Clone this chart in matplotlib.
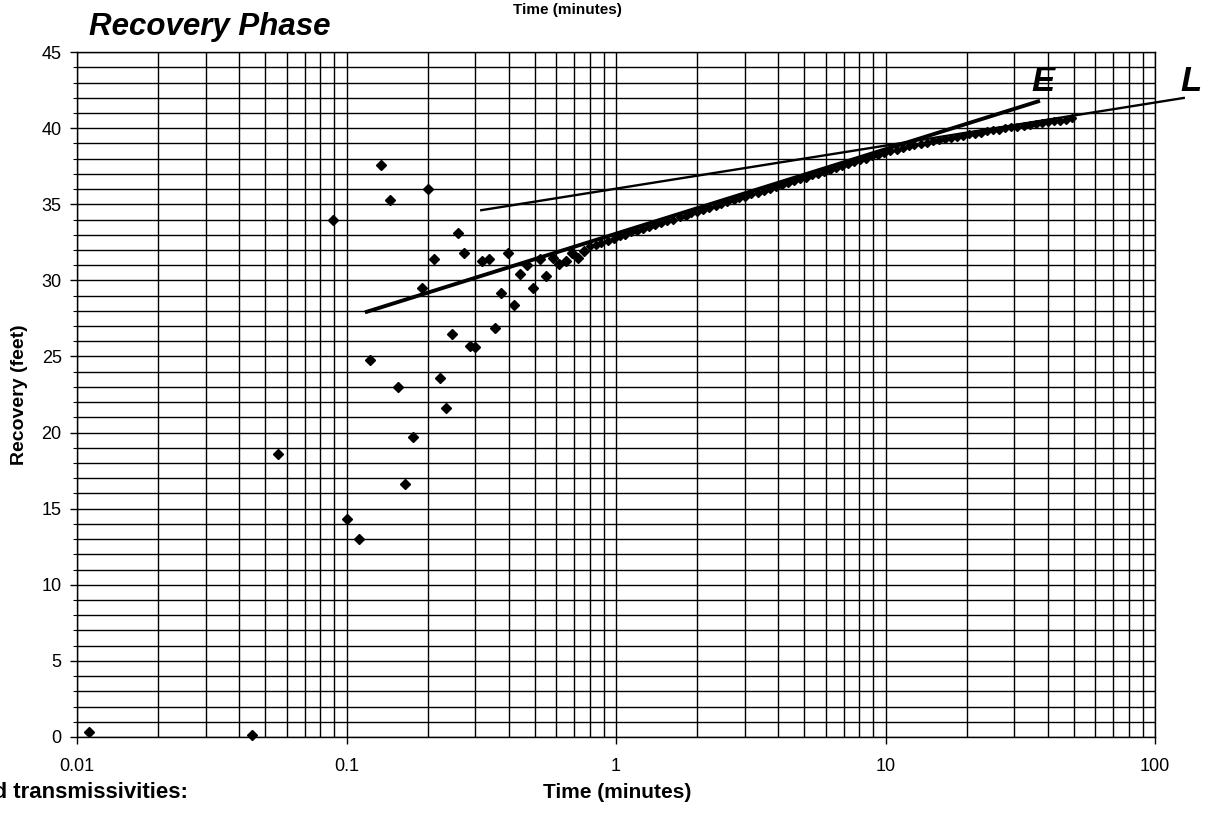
import matplotlib
matplotlib.use("Agg")
import matplotlib.pyplot as plt
from matplotlib.ticker import LogLocator, MultipleLocator, NullFormatter, FixedLocator, FixedFormatter

plt.rcParams['font.family'] = ['Liberation Sans', 'DejaVu Sans']

# early-time scatter (minutes, feet)
early_time = [0.0111, 0.0446, 0.0557, 0.089, 0.100, 0.111, 0.122, 0.134, 0.145, 0.155,
              0.165, 0.177, 0.190, 0.201, 0.212, 0.222, 0.233, 0.246, 0.260, 0.273,
              0.287, 0.300, 0.319, 0.338, 0.356, 0.374, 0.398, 0.419, 0.440, 0.466,
              0.493, 0.522, 0.550, 0.582, 0.613, 0.650, 0.685, 0.721, 0.761]
early_recovery = [0.3, 0.1, 18.6, 34.0, 14.3, 13.0, 24.8, 37.6, 35.3, 23.0,
                  16.6, 19.7, 29.5, 36.0, 31.4, 23.6, 21.6, 26.5, 33.1, 31.8,
                  25.7, 25.6, 31.3, 31.4, 26.9, 29.2, 31.8, 28.4, 30.4, 31.0,
                  29.5, 31.4, 30.3, 31.5, 31.1, 31.3, 31.8, 31.5, 31.9]

# later, smooth part of the recovery curve
late_time = [0.80, 0.84, 0.88, 0.93, 0.98, 1.03, 1.08, 1.14, 1.20, 1.26,
             1.33, 1.40, 1.47, 1.55, 1.63, 1.72, 1.81, 1.90, 2.00, 2.11,
             2.22, 2.34, 2.46, 2.59, 2.73, 2.87, 3.02, 3.18, 3.35, 3.53,
             3.72, 3.91, 4.12, 4.34, 4.57, 4.81, 5.06, 5.33, 5.61, 5.91,
             6.22, 6.55, 6.90, 7.26, 7.65, 8.05, 8.48, 8.93, 9.40, 9.90,
             10.4, 11.0, 11.6, 12.2, 12.8, 13.5, 14.2, 15.0, 15.8, 16.6,
             17.5, 18.4, 19.4, 20.4, 21.5, 22.6, 23.8, 25.1, 26.4, 27.8,
             29.3, 30.8, 32.5, 34.2, 36.0, 37.9, 39.9, 42.0, 44.3, 46.6, 49.1]
late_recovery = [32.25, 32.35, 32.45, 32.6, 32.75, 32.9, 33.0, 33.15, 33.25, 33.4,
                 33.5, 33.65, 33.75, 33.9, 34.0, 34.15, 34.25, 34.4, 34.5, 34.65,
                 34.75, 34.9, 35.0, 35.15, 35.25, 35.4, 35.5, 35.65, 35.75, 35.9,
                 36.0, 36.15, 36.25, 36.4, 36.5, 36.65, 36.75, 36.9, 37.0, 37.15,
                 37.25, 37.4, 37.5, 37.65, 37.75, 37.9, 38.0, 38.15, 38.25, 38.4,
                 38.5, 38.6, 38.7, 38.8, 38.9, 38.95, 39.05, 39.15, 39.2, 39.3,
                 39.35, 39.45, 39.5, 39.6, 39.65, 39.7, 39.8, 39.85, 39.9, 40.0,
                 40.05, 40.1, 40.15, 40.2, 40.3, 40.35, 40.4, 40.45, 40.5, 40.55, 40.65]

# straight-line fits (endpoints)
line_e_time = [0.117, 37.4]
line_e_recovery = [27.9, 41.8]
line_l_time = [0.313, 129.0]
line_l_recovery = [34.6, 42.0]

x_ticks = [0.01, 0.1, 1, 10, 100]
x_tick_labels = ["0.01", "0.1", "1", "10", "100"]

fig = plt.figure(figsize=(12.07, 8.14), dpi=100)
ax = fig.add_axes([0.0638, 0.0946, 0.8932, 0.8414])

ax.set_xscale("log")
ax.set_xlim(0.01, 100)
ax.set_ylim(0, 45)

ax.xaxis.set_major_locator(FixedLocator(x_ticks))
ax.xaxis.set_major_formatter(FixedFormatter(x_tick_labels))
ax.xaxis.set_minor_locator(LogLocator(base=10, subs=range(2, 10)))
ax.xaxis.set_minor_formatter(NullFormatter())
ax.yaxis.set_major_locator(MultipleLocator(5))
ax.yaxis.set_minor_locator(MultipleLocator(1))

ax.grid(True, which="both", axis="both", color="black", linewidth=1.0)
ax.set_axisbelow(True)
ax.tick_params(axis="both", which="major", direction="out", length=5, width=1,
               labelsize=13)
ax.tick_params(axis="y", which="major", pad=6)
ax.tick_params(axis="x", which="major", pad=10)
ax.tick_params(axis="y", which="minor", direction="out", length=3, width=0.8)
ax.tick_params(axis="x", which="minor", length=0)
for s in ax.spines.values():
    s.set_color("black")
    s.set_linewidth(1.0)

ax.plot(line_e_time, line_e_recovery, color="black", linewidth=2.8,
        solid_capstyle="butt", zorder=3)
ax.plot(line_l_time, line_l_recovery, color="black", linewidth=1.7,
        solid_capstyle="butt", clip_on=False, zorder=3)

ax.plot(early_time, early_recovery, linestyle="none", marker="D", markersize=4.8,
        color="black", clip_on=False, zorder=4)
ax.plot(late_time, late_recovery, linestyle="none", marker="D", markersize=4.0,
        color="black", zorder=4)

ax.text(38.4, 43.1, "E", fontsize=25, fontweight="bold", fontstyle="italic",
        ha="center", va="center", clip_on=False)
ax.text(136, 43.1, "L", fontsize=25, fontweight="bold", fontstyle="italic",
        ha="center", va="center", clip_on=False)

ax.set_ylabel("Recovery (feet)", fontsize=14, fontweight="bold", labelpad=10)

fig.text(89 / 1207, 1 - 35 / 814, "Recovery Phase", fontsize=22.5, fontweight="bold",
         fontstyle="italic", ha="left", va="baseline")
fig.text(567 / 1207, 1 - 10 / 814, "Time (minutes)", fontsize=11, fontweight="bold",
         ha="center", va="center")
fig.text(617 / 1207, 1 - 792 / 814, "Time (minutes)", fontsize=15, fontweight="bold",
         ha="center", va="center")
fig.text(188 / 1207, 1 - 793 / 814, "Estimated transmissivities:", fontsize=16,
         fontweight="bold", ha="right", va="center")

fig.savefig("out.png", dpi=100)
